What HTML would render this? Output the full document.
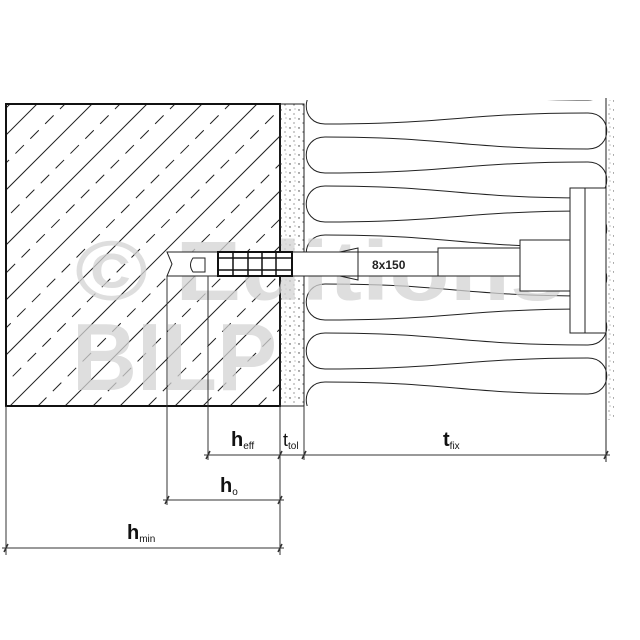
<!DOCTYPE html>
<html><head><meta charset="utf-8"><style>html,body{margin:0;padding:0;background:#fff}svg{display:block}</style></head>
<body>
<svg width="640" height="640" viewBox="0 0 640 640" xmlns="http://www.w3.org/2000/svg" font-family="Liberation Sans, sans-serif">
<defs>
<clipPath id="c"><rect x="6" y="104" width="274" height="302"/></clipPath>
<clipPath id="ins"><rect x="304" y="100" width="304" height="306"/></clipPath>
<pattern id="dots" width="9" height="9" patternUnits="userSpaceOnUse">
<circle cx="2" cy="2" r="0.7" fill="#333"/><circle cx="6" cy="6" r="0.6" fill="#555"/><circle cx="7" cy="1" r="0.5" fill="#666"/>
</pattern>
</defs>
<!-- hatching -->
<g clip-path="url(#c)" stroke="#222" stroke-width="1" fill="none">
<path d="M-320 406 l302 -302 M-265 406 l302 -302 M-210 406 l302 -302 M-155 406 l302 -302 M-100 406 l302 -302 M-45 406 l302 -302 M10 406 l302 -302 M65 406 l302 -302 M120 406 l302 -302 M175 406 l302 -302 M230 406 l302 -302 M285 406 l302 -302"/>
<path stroke-dasharray="12,9" d="M-292 406 l302 -302 M-237 406 l302 -302 M-182 406 l302 -302 M-127 406 l302 -302 M-72 406 l302 -302 M-17 406 l302 -302 M38 406 l302 -302 M93 406 l302 -302 M148 406 l302 -302 M203 406 l302 -302 M258 406 l302 -302"/>
</g>
<rect x="6" y="104" width="274" height="302" fill="none" stroke="#111" stroke-width="2"/>
<!-- plaster -->
<rect x="280" y="104" width="24" height="302" fill="url(#dots)" stroke="#222" stroke-width="1"/>
<rect x="606" y="100" width="8" height="320" fill="url(#dots)"/>
<line x1="606" y1="98" x2="606" y2="462" stroke="#222"/>
<!-- insulation serpentine -->
<g clip-path="url(#ins)">
<path fill="none" stroke="#222" stroke-width="1" d="M325,39
c-25,0 -25,36 0,36 c125,0 140,-11 263,-11 c25,0 25,36 0,36 c-125,0 -140,-12 -263,-12
c-25,0 -25,36 0,36 c125,0 140,-11 263,-11 c25,0 25,36 0,36 c-125,0 -140,-12 -263,-12
c-25,0 -25,36 0,36 c125,0 140,-11 263,-11 c25,0 25,36 0,36 c-125,0 -140,-12 -263,-12
c-25,0 -25,36 0,36 c125,0 140,-11 263,-11 c25,0 25,36 0,36 c-125,0 -140,-12 -263,-12
c-25,0 -25,36 0,36 c125,0 140,-11 263,-11 c25,0 25,36 0,36 c-125,0 -140,-12 -263,-12
c-25,0 -25,36 0,36 c125,0 140,-11 263,-11 c25,0 25,36 0,36 c-125,0 -140,-12 -263,-12
c-25,0 -25,36 0,36 c125,0 140,-11 263,-11 c25,0 25,36 0,36 c-125,0 -140,-12 -263,-12
c-25,0 -25,36 0,36 c125,0 140,-11 263,-11 c25,0 25,36 0,36 c-125,0 -140,-12 -263,-12"/>
</g>
<!-- watermark -->
<g fill="#d4d4d4" opacity="0.75" font-weight="bold">
<text x="75" y="300" font-size="84" textLength="490" lengthAdjust="spacingAndGlyphs">© Editions</text>
<text x="72" y="390" font-size="96" textLength="205" lengthAdjust="spacingAndGlyphs">BILP</text>
</g>
<!-- fixture -->
<rect x="570" y="188" width="15" height="145" fill="#fff" stroke="#222"/>
<rect x="585" y="188" width="21" height="145" fill="#fff" stroke="#222"/>
<!-- anchor -->
<path d="M167 252 L440 252 L440 276 L167 276 L172 264 Z" fill="#fff" stroke="#222"/>
<path d="M193 258 L205 258 L205 272 L193 272 Q188 265 193 258Z" fill="none" stroke="#222"/>
<rect x="218" y="252" width="74" height="24" fill="none" stroke="#111" stroke-width="2"/>
<g stroke="#111" stroke-width="1.5"><line x1="233" y1="252" x2="233" y2="276"/><line x1="248" y1="252" x2="248" y2="276"/><line x1="262" y1="252" x2="262" y2="276"/><line x1="276" y1="252" x2="276" y2="276"/><line x1="218" y1="258" x2="292" y2="258"/><line x1="218" y1="270" x2="292" y2="270"/></g>
<path d="M340 252 L358 248 L358 280 L340 276" fill="none" stroke="#222"/>
<text x="372" y="269" font-size="12" font-weight="bold" fill="#222">8x150</text>
<rect x="438" y="248" width="82" height="28" fill="#fff" stroke="#222"/>
<rect x="520" y="240" width="50" height="51" fill="#fff" stroke="#222"/>
<!-- dimensions -->
<g stroke="#333" stroke-width="1">
<line x1="6" y1="406" x2="6" y2="555"/>
<line x1="167" y1="276" x2="167" y2="505"/>
<line x1="208" y1="276" x2="208" y2="460"/>
<line x1="280" y1="406" x2="280" y2="555"/>
<line x1="304" y1="406" x2="304" y2="460"/>
<line x1="204" y1="455" x2="610" y2="455"/>
<line x1="163" y1="500" x2="284" y2="500"/>
<line x1="2" y1="548" x2="284" y2="548"/>
<g stroke-width="1.5"><path d="M206 459 l4 -8 M278 459 l4 -8 M302 459 l4 -8 M604 459 l4 -8 M165 504 l4 -8 M278 504 l4 -8 M4 552 l4 -8 M278 552 l4 -8"/></g>
</g>
<g fill="#111" font-family="Liberation Sans Narrow, Liberation Sans, sans-serif">
<text x="231" y="446" font-size="20" font-weight="bold">h<tspan font-size="10" font-weight="normal" dy="3">eff</tspan></text>
<text x="283" y="446" font-size="18">t<tspan font-size="10" dy="3">tol</tspan></text>
<text x="443" y="446" font-size="20" font-weight="bold">t<tspan font-size="10" font-weight="normal" dy="3">fix</tspan></text>
<text x="220" y="492" font-size="20" font-weight="bold">h<tspan font-size="10" font-weight="normal" dy="3">o</tspan></text>
<text x="127" y="539" font-size="20" font-weight="bold">h<tspan font-size="10" font-weight="normal" dy="3">min</tspan></text>
</g>
</svg>
</body></html>
